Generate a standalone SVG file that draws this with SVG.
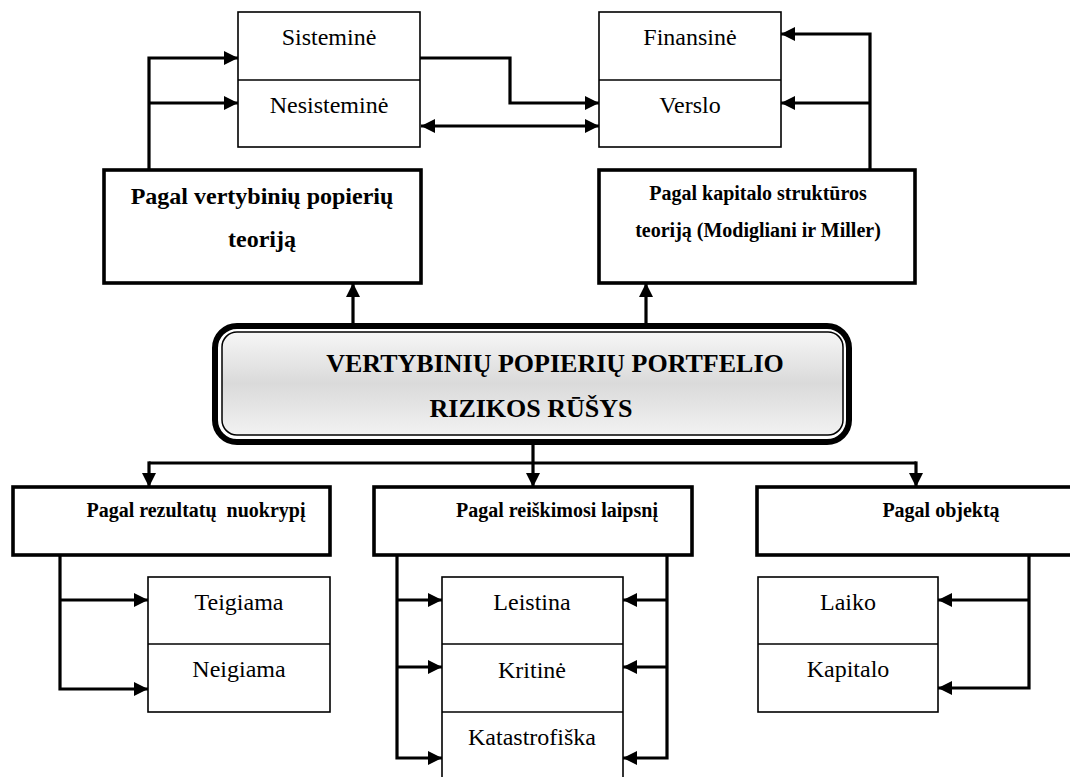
<svg xmlns="http://www.w3.org/2000/svg" width="1070" height="777" viewBox="0 0 1070 777">
  <style>
    .cell { fill: #ffffff; stroke: #000000; stroke-width: 1.6; }
    .sep { stroke: #000000; stroke-width: 1.6; }
    .head { fill: #ffffff; stroke: #000000; stroke-width: 3.6; }
    .lbl { font-family: 'Liberation Serif', 'DejaVu Serif', serif; font-weight: normal; font-size: 24px; fill: #000000; text-anchor: middle; }
    .bold { font-family: 'Liberation Serif', 'DejaVu Serif', serif; font-weight: bold; fill: #000000; text-anchor: middle; white-space: pre; }
    .conn path { fill: none; stroke: #000000; stroke-width: 3.2; stroke-linejoin: miter; }
  </style>
  <defs>
    <marker id="arrow" viewBox="0 0 14 14" refX="14" refY="7" markerWidth="14" markerHeight="14" markerUnits="userSpaceOnUse" orient="auto-start-reverse">
      <path d="M0,0 L14,7 L0,14 Z" fill="#000000"/>
    </marker>
    <linearGradient id="mainFill" x1="0" y1="0" x2="0" y2="1">
      <stop offset="0" stop-color="#f6f6f6"/>
      <stop offset="0.5" stop-color="#dadada"/>
      <stop offset="1" stop-color="#f2f2f2"/>
    </linearGradient>
  </defs>

  <rect width="1070" height="777" fill="#ffffff"/>

  <!-- connectors -->
  <g id="connectors" class="conn">
    <path d="M149,170 V58 H238" marker-end="url(#arrow)"/>
    <path d="M149,103 H238" marker-end="url(#arrow)"/>
    <path d="M420,58 H510 V103 H599" marker-end="url(#arrow)"/>
    <path d="M421,126 H599" marker-start="url(#arrow)" marker-end="url(#arrow)"/>
    <path d="M870,170 V34 H781" marker-end="url(#arrow)"/>
    <path d="M870,103 H781" marker-end="url(#arrow)"/>
    <path d="M353,323 V283" marker-end="url(#arrow)"/>
    <path d="M646,323 V283" marker-end="url(#arrow)"/>
    <path d="M533,444 V487" marker-end="url(#arrow)"/>
    <path d="M149,463 H916"/>
    <path d="M149,461.4 V487" marker-end="url(#arrow)"/>
    <path d="M916,461.4 V487" marker-end="url(#arrow)"/>
    <path d="M60,555 V689 H148" marker-end="url(#arrow)"/>
    <path d="M60,600 H148" marker-end="url(#arrow)"/>
    <path d="M397,555 V758 H442" marker-end="url(#arrow)"/>
    <path d="M397,600 H442" marker-end="url(#arrow)"/>
    <path d="M397,667 H442" marker-end="url(#arrow)"/>
    <path d="M667,555 V758 H623" marker-end="url(#arrow)"/>
    <path d="M667,600 H623" marker-end="url(#arrow)"/>
    <path d="M667,667 H623" marker-end="url(#arrow)"/>
    <path d="M1029,555 V688 H938" marker-end="url(#arrow)"/>
    <path d="M1029,600 H938" marker-end="url(#arrow)"/>
  </g>

  <!-- market risk split -->
  <g id="node-sistemine">
    <rect class="cell" x="238" y="12" width="182" height="135"/>
    <line class="sep" x1="238" y1="80" x2="420" y2="80"/>
    <text class="lbl" x="329" y="45">Sisteminė</text>
    <text class="lbl" x="329" y="113">Nesisteminė</text>
  </g>

  <g id="node-finansine">
    <rect class="cell" x="599" y="12" width="182" height="135"/>
    <line class="sep" x1="599" y1="80" x2="781" y2="80"/>
    <text class="lbl" x="690" y="45">Finansinė</text>
    <text class="lbl" x="690" y="113">Verslo</text>
  </g>

  <g id="node-vertybiniu-teorija">
    <rect class="head" x="104" y="170" width="317" height="113"/>
    <text class="bold" x="262" y="204" font-size="24">Pagal vertybinių popierių</text>
    <text class="bold" x="262" y="247" font-size="24">teoriją</text>
  </g>

  <g id="node-kapitalo-teorija">
    <rect class="head" x="599" y="170" width="316" height="113"/>
    <text class="bold" x="758" y="200" font-size="20">Pagal kapitalo struktūros</text>
    <text class="bold" x="758" y="237" font-size="20">teoriją (Modigliani ir Miller)</text>
  </g>

  <!-- central title -->
  <g id="node-main">
    <rect x="215" y="326" width="634" height="116" rx="22" ry="22" fill="#ffffff" stroke="#000000" stroke-width="6"/>
    <rect x="222" y="332" width="621" height="103" rx="15" ry="15" fill="url(#mainFill)" stroke="#000000" stroke-width="1.5"/>
    <text class="bold" x="555" y="372" font-size="26">VERTYBINIŲ POPIERIŲ PORTFELIO</text>
    <text class="bold" x="531" y="417" font-size="26">RIZIKOS RŪŠYS</text>
  </g>

  <!-- lower categories -->
  <g id="node-nuokrypis">
    <rect class="head" x="13" y="487" width="317" height="68"/>
    <text class="bold" x="196" y="517" font-size="20">Pagal rezultatų  nuokrypį</text>
  </g>

  <g id="node-teigiama">
    <rect class="cell" x="148" y="577" width="182" height="135"/>
    <line class="sep" x1="148" y1="644" x2="330" y2="644"/>
    <text class="lbl" x="239" y="610">Teigiama</text>
    <text class="lbl" x="239" y="677">Neigiama</text>
  </g>

  <g id="node-laipsnis">
    <rect class="head" x="374" y="487" width="318" height="68"/>
    <text class="bold" x="557" y="517" font-size="20">Pagal reiškimosi laipsnį</text>
  </g>

  <g id="node-leistina">
    <rect class="cell" x="442" y="577" width="181" height="205"/>
    <line class="sep" x1="442" y1="644" x2="623" y2="644"/>
    <line class="sep" x1="442" y1="712" x2="623" y2="712"/>
    <text class="lbl" x="532" y="610">Leistina</text>
    <text class="lbl" x="532" y="678">Kritinė</text>
    <text class="lbl" x="532" y="745">Katastrofiška</text>
  </g>

  <g id="node-objektas">
    <rect class="head" x="757" y="487" width="320" height="68"/>
    <text class="bold" x="941" y="517" font-size="20">Pagal objektą</text>
  </g>

  <g id="node-laiko">
    <rect class="cell" x="758" y="577" width="180" height="135"/>
    <line class="sep" x1="758" y1="644" x2="938" y2="644"/>
    <text class="lbl" x="848" y="610">Laiko</text>
    <text class="lbl" x="848" y="677">Kapitalo</text>
  </g>
</svg>
